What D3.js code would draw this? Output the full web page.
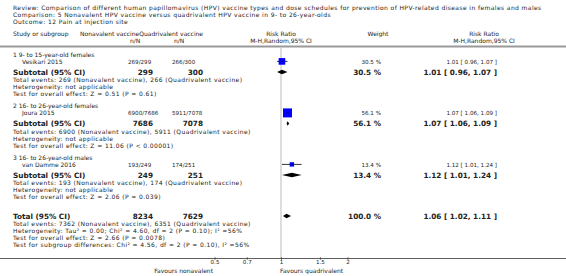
<!DOCTYPE html>
<html>
<head>
<meta charset="utf-8">
<script src="https://cdn.jsdelivr.net/npm/d3@7"></script>
<style>
  body { margin: 0; background: #fff; }
  svg { display: block; font-family: "DejaVu Sans", Verdana, sans-serif; }
  text { fill: #222; }
</style>
</head>
<body>
<div id="chart"></div>
<script>
// Forest plot - pain at injection site, nonavalent vs quadrivalent HPV vaccine
const headerLines = [
    "Review:  Comparison of different human papillomavirus (HPV) vaccine types and dose schedules for prevention of HPV-related disease in females and males",
    "Comparison:  5 Nonavalent HPV vaccine versus quadrivalent HPV vaccine in 9- to 26-year-olds",
    "Outcome:  12 Pain at injection site"
];

const groups = ["1 9- to 15-year-old females", "2 16- to 26-year-old females", "3 16- to 26-year-old males"];
const studies = ["Vesikari 2015", "Joura 2015", "van Damme 2016"];
const nonaEvents = [269, 6900, 193];
const nonaTotal = [299, 7686, 249];
const quadEvents = [266, 5911, 174];
const quadTotal = [300, 7078, 251];
const rr = [1.01, 1.07, 1.12];
const rrLow = [0.96, 1.06, 1.01];
const rrHigh = [1.07, 1.09, 1.24];
const weights = [30.5, 56.1, 13.4];
const overallTests = ["Z = 0.51 (P = 0.61)", "Z = 11.06 (P < 0.00001)", "Z = 2.06 (P = 0.039)"];

const total = { nona: 8234, quad: 7629, nonaEv: 7362, quadEv: 6351, rr: 1.06, low: 1.02, high: 1.11, weight: 100.0 };
const totalNotes = [
    "Heterogeneity: Tau² = 0.00; Chi² = 4.60, df = 2 (P = 0.10); I² =56%",
    "Test for overall effect: Z = 2.66 (P = 0.0078)",
    "Test for subgroup differences: Chi² = 4.56, df = 2 (P = 0.10), I² =56%"
];
const ticks = [0.5, 0.7, 1, 1.5, 2];

const width = 566, height = 276;
const small = 6.0, tiny = 5.6, big = 7.3;
const lh = 7.0;       // line step for small text
const wide = 0.4;     // letter spacing for the long note lines

const svg = d3.select("#chart").append("svg")
    .attr("width", width)
    .attr("height", height);

const x = d3.scaleLog().domain([0.5, 2]).range([214.5, 347.5]);
const f2 = d3.format(".2f");
const ciText = (m, l, h) => `${f2(m)} [ ${f2(l)}, ${f2(h)} ]`;
const wText = w => `${d3.format(".1f")(w)} %`;

// column positions
const col = { left: 13, indent: 22, n1: 128, n2: 172, n1b: 153, n2b: 203, weight: 381, rr: 497 };

function txt(s, tx, ty, opts = {}) {
    return svg.append("text")
        .attr("x", tx)
        .attr("y", ty)
        .attr("font-size", opts.size || small)
        .attr("font-weight", opts.bold ? "bold" : null)
        .attr("letter-spacing", opts.ls || null)
        .attr("text-anchor", opts.anchor || "start")
        .text(s);
}

// header
headerLines.forEach((s, i) => txt(s, col.left, 9.5 + i * lh, { ls: wide }));

txt("Study or subgroup", col.left, 36.3);
const nh = txt("Nonavalent vaccine", 80, 36.3);
txt("Quadrivalent vaccine", 80 + nh.node().getComputedTextLength(), 36.3);
txt("Risk Ratio", x(1), 36.3, { anchor: "middle" });
txt("Weight", 378, 36.3, { anchor: "middle" });
txt("Risk Ratio", 484, 36.3, { anchor: "middle" });
txt("n/N", col.n1 + 2, 43.3);
txt("n/N", col.n2 + 2, 43.3);
txt("M-H,Random,95% CI", x(1), 43.3, { anchor: "middle" });
txt("M-H,Random,95% CI", 484, 43.3, { anchor: "middle" });

svg.append("line")
    .attr("x1", 0).attr("x2", width)
    .attr("y1", 46.5).attr("y2", 46.5)
    .attr("stroke", "#999").attr("stroke-width", 2);

// axis + line of no effect
const axisY = 258.5;
svg.append("line")
    .attr("x1", x(1)).attr("x2", x(1))
    .attr("y1", 48).attr("y2", axisY)
    .attr("stroke", "#ddd").attr("stroke-width", 2);

const marks = svg.append("g");

function diamond(m, l, h, cy, hh) {
    marks.append("path")
        .attr("d", `M${x(l)},${cy} L${x(m)},${cy - hh} L${x(h)},${cy} L${x(m)},${cy + hh} Z`)
        .attr("fill", "#000");
}

groups.forEach((g, i) => {
    const b0 = 56.6 + i * 51.5;          // heading baseline
    const ys = b0 + lh - 2.2;             // study row centre
    const yt = b0 + 15.4;                 // subtotal centre
    txt(g, col.left, b0);
    txt(studies[i], col.indent, b0 + lh);
    txt(`${nonaEvents[i]}/${nonaTotal[i]}`, col.n1, b0 + lh, { size: tiny });
    txt(`${quadEvents[i]}/${quadTotal[i]}`, col.n2, b0 + lh, { size: tiny });
    txt(wText(weights[i]), col.weight, b0 + lh, { size: tiny, anchor: "end" });
    txt(ciText(rr[i], rrLow[i], rrHigh[i]), col.rr, b0 + lh, { size: tiny, anchor: "end" });

    // CI line + weighted square
    marks.append("line")
        .attr("x1", x(rrLow[i])).attr("x2", x(rrHigh[i]))
        .attr("y1", ys).attr("y2", ys)
        .attr("stroke", "#000").attr("stroke-width", 0.8);
    const side = 1.2 * Math.sqrt(weights[i]);
    marks.append("rect")
        .attr("x", x(rr[i]) - side / 2).attr("y", ys - side / 2)
        .attr("width", side).attr("height", side)
        .attr("fill", "#0000ff");
    marks.append("line")
        .attr("x1", x(rr[i]) - 1).attr("x2", x(rr[i]) + 1)
        .attr("y1", ys).attr("y2", ys)
        .attr("stroke", "#000").attr("stroke-width", 0.6);

    // subtotal
    const bt = yt + 2.6;
    txt("Subtotal (95% CI)", col.left, bt, { size: big, bold: true });
    txt(nonaTotal[i], col.n1b, bt, { size: big, bold: true, anchor: "end" });
    txt(quadTotal[i], col.n2b, bt, { size: big, bold: true, anchor: "end" });
    txt(wText(weights[i]), col.weight, bt, { size: big, bold: true, anchor: "end" });
    txt(ciText(rr[i], rrLow[i], rrHigh[i]), col.rr, bt, { size: big, bold: true, anchor: "end" });
    diamond(rr[i], rrLow[i], rrHigh[i], yt, 2.3);

    const be = bt + 7.4;
    txt(`Total events: ${nonaEvents[i]} (Nonavalent vaccine), ${quadEvents[i]} (Quadrivalent vaccine)`, col.left, be, { ls: wide });
    txt("Heterogeneity: not applicable", col.left, be + lh, { ls: wide });
    txt(`Test for overall effect: ${overallTests[i]}`, col.left, be + 2 * lh, { ls: wide });
});

// total
const yT = 216, bT = yT + 2.6;
txt("Total (95% CI)", col.left, bT, { size: big, bold: true });
txt(total.nona, col.n1b, bT, { size: big, bold: true, anchor: "end" });
txt(total.quad, col.n2b, bT, { size: big, bold: true, anchor: "end" });
txt(wText(total.weight), col.weight, bT, { size: big, bold: true, anchor: "end" });
txt(ciText(total.rr, total.low, total.high), col.rr, bT, { size: big, bold: true, anchor: "end" });
diamond(total.rr, total.low, total.high, yT, 2.3);
txt(`Total events: ${total.nonaEv} (Nonavalent vaccine), ${total.quadEv} (Quadrivalent vaccine)`, col.left, bT + 7.4, { ls: wide });
totalNotes.forEach((s, i) => txt(s, col.left, bT + 7.4 + (i + 1) * lh, { ls: wide }));

// axis
svg.append("line")
    .attr("x1", 0).attr("x2", width)
    .attr("y1", axisY).attr("y2", axisY)
    .attr("stroke", "#333").attr("stroke-width", 0.8);

const axis = d3.axisBottom(x)
    .tickValues(ticks)
    .tickFormat(d => d)
    .tickSize(3)
    .tickPadding(0.5);

const ax = svg.append("g")
    .attr("transform", `translate(0,${axisY - 1.5})`)
    .call(axis);
ax.select(".domain").remove();
ax.selectAll("text")
    .attr("font-size", 5.6)
    .attr("font-family", "DejaVu Sans, sans-serif")
    .attr("fill", "#222");
ax.selectAll("line").attr("stroke", "#333").attr("stroke-width", 0.6);

txt("Favours nonavalent", 213, 272.5, { anchor: "end" });
txt("Favours quadrivalent", 280, 272.5);
</script>
</body>
</html>
